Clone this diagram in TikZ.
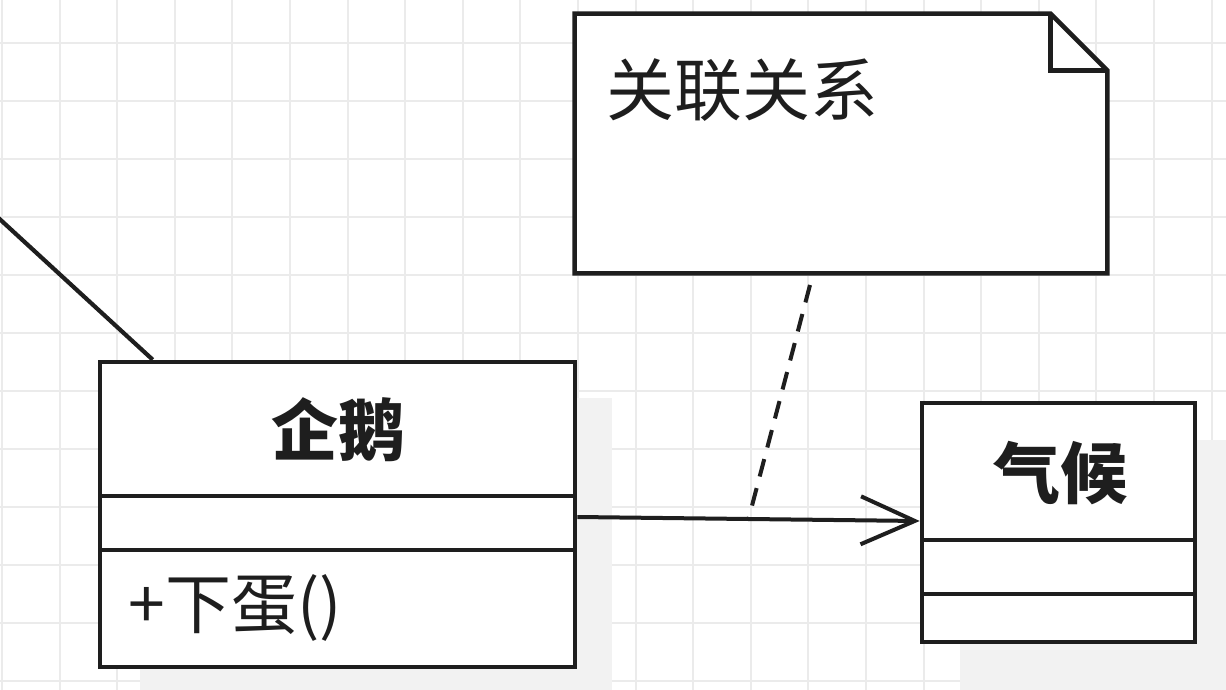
\documentclass[tikz,border=0pt]{standalone}
\usepackage{fontspec}
\newfontfamily\cjk{Noto Sans CJK SC}
\usetikzlibrary{arrows.meta}
\definecolor{gridc}{HTML}{EBEBEB}
\definecolor{shadowc}{HTML}{F2F2F2}
\definecolor{inkc}{HTML}{1E1E1E}
\tikzset{
  classbox/.style={draw=inkc, line width=2.3pt, fill=white, rectangle, inner sep=0pt},
  divider/.style={draw=inkc, line width=2.1pt},
  title/.style={font=\cjk\bfseries\fontsize{33.5pt}{36pt}\selectfont, text=inkc, inner sep=0pt},
  member/.style={font=\cjk\fontsize{33pt}{36pt}\selectfont, text=inkc, inner sep=0pt, anchor=west},
  notetext/.style={font=\cjk\fontsize{34pt}{36pt}\selectfont, text=inkc, inner sep=0pt, anchor=west},
  assoc/.style={draw=inkc, line width=2pt, -{Straight Barb[length=27pt,width=24pt,line width=2pt]}},
  anchorline/.style={draw=inkc, line width=2pt, dash pattern=on 9pt off 6pt},
  plainline/.style={draw=inkc, line width=2.1pt}
}
\begin{document}
\begin{tikzpicture}[x=0.5pt,y=-0.5pt]
\useasboundingbox (0,0) rectangle (1226,690);
\clip (0,0) rectangle (1226,690);
\fill[white] (0,0) rectangle (1226,690);
% grid
\foreach \i in {0,...,21} {
  \draw[gridc, line width=1pt] ({2+57.6*\i},0) -- ({2+57.6*\i},690);
}
\foreach \j in {0,...,11} {
  \draw[gridc, line width=1pt] (0,{43+58*\j}) -- (1226,{43+58*\j});
}
% faint shadows
\fill[shadowc] (140,398) rectangle (612,690);
\fill[shadowc] (960,440) rectangle (1226,690);

% penguin class
\node[classbox, minimum width=237.5pt, minimum height=152.5pt] (penguin) at (337.5,514.5) {};
\draw[divider] (100,496) -- (575,496);
\draw[divider] (100,550) -- (575,550);
\node[title] (ptitle) at (338,430) {企鹅};
\node[member] (pmethod) at (128,608) {+下蛋()};

% climate class
\node[classbox, minimum width=136.5pt, minimum height=119.5pt] (climate) at (1058.5,522.5) {};
\draw[divider] (922,540) -- (1195,540);
\draw[divider] (922,594) -- (1195,594);
\node[title] (ctitle) at (1060,473) {气候};

% note
\node[minimum width=266pt, minimum height=129.5pt, inner sep=0pt] (note) at (841,143.5) {};
\draw[draw=inkc, line width=2.3pt, fill=white, line join=miter]
  (note.north west) -- ([xshift=-28.5pt]note.north east) -- ([yshift=-28.5pt]note.north east)
  -- (note.south east) -- (note.south west) -- cycle;
\draw[draw=inkc, line width=2.3pt, line join=miter]
  ([xshift=-28.5pt]note.north east) -- ([xshift=-28.5pt,yshift=-28.5pt]note.north east) -- ([yshift=-28.5pt]note.north east);
\node[notetext] (ntext) at (606,90) {关联关系};

% association
\draw[assoc] ([yshift=-1.25pt]penguin.east) -- coordinate[pos=0.5] (joint) ([yshift=0.75pt]climate.west);
\coordinate (notepin) at (810,285);
\draw[anchorline] (notepin) -- (joint);

% line from off-picture to penguin
\coordinate (offleft) at (-20,201);
\draw[plainline] (offleft) -- ([xshift=27.5pt]penguin.north west);
\end{tikzpicture}
\end{document}
